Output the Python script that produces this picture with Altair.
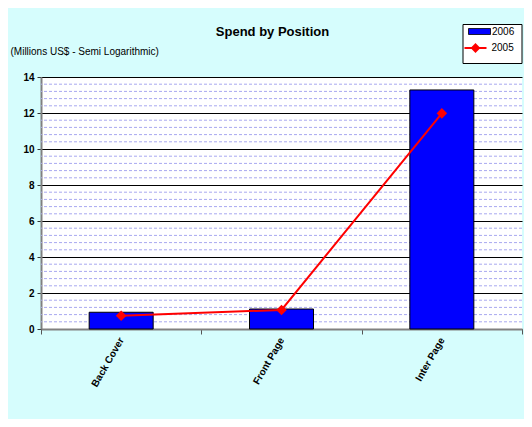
import altair as alt
import pandas as pd

categories = ["Back Cover", "Front Page", "Inter Page"]
spend_2006 = [0.93, 1.11, 13.28]
spend_2005 = [0.74, 1.06, 11.98]
series = ["2006", "2005"]
y_ticks = [0, 2, 4, 6, 8, 10, 12, 14]
minor_grid = [round(i * 0.4, 1) for i in range(1, 35) if i % 5 != 0]

bars_df = pd.DataFrame({"Position": categories, "Spend": spend_2006, "Year": series[0]})
line_df = pd.DataFrame({"Position": categories, "Spend": spend_2005, "Year": series[1]})
grid_df = pd.DataFrame({"Spend": minor_grid})

FONT = "Liberation Sans"

x_axis = alt.Axis(
    title=None,
    labelAngle=-60,
    labelFontWeight="bold",
    labelFontSize=10,
    labelFont=FONT,
    labelColor="black",
    labelPadding=4,
    tickBand="extent",
    tickSize=5,
    tickColor="#555555",
    tickWidth=1,
    domainColor="#808080",
    domainWidth=2,
    grid=False,
)
x_scale = alt.Scale(paddingInner=0, paddingOuter=0)

y_scale = alt.Scale(domain=[0, 14], nice=False, zero=True)
y_axis = alt.Axis(
    values=y_ticks,
    title="(Millions US$ - Semi Logarithmic)",
    titleAngle=0,
    titleAlign="left",
    titleBaseline="middle",
    titleX=-31,
    titleY=-26,
    titleFontSize=10,
    titleFontWeight="normal",
    titleFont=FONT,
    titleColor="black",
    labelFontWeight="bold",
    labelFontSize=10,
    labelFont=FONT,
    labelColor="black",
    labelPadding=3,
    tickSize=4,
    tickColor="#333333",
    domainColor="#808080",
    domainWidth=2,
    grid=True,
    gridColor="black",
    gridWidth=1,
)

fill_legend = alt.Legend(
    title=None,
    orient="none",
    legendX=433,
    legendY=-51,
    padding=0,
    labelFont=FONT,
    labelFontSize=10,
    labelColor="black",
    labelOffset=7,
    symbolSize=100,
    symbolType="M-2.2,-0.6H2.2V0.6H-2.2Z",
    symbolStrokeColor="black",
    symbolStrokeWidth=0.8,
    symbolOpacity=1,
    zindex=3,
)

stroke_legend = alt.Legend(
    title="2006",
    titleOpacity=0,
    titleOrient="top",
    titleFontSize=10,
    titlePadding=1,
    orient="none",
    legendX=421.5,
    legendY=-53,
    padding=7,
    fillColor="white",
    strokeColor="black",
    labelFont=FONT,
    labelFontSize=10,
    labelColor="black",
    labelOffset=10,
    symbolSize=100,
    symbolType="M-2.2,0H2.2M0,-0.7L0.7,0L0,0.7L-0.7,0Z",
    symbolFillColor="#ff0000",
    symbolStrokeWidth=2,
    symbolOpacity=1,
    zindex=1,
)

minor = alt.Chart(grid_df).mark_rule(
    color="#a8a8f0", strokeWidth=1, strokeDash=[3, 2]
).encode(y=alt.Y("Spend:Q", scale=y_scale, axis=y_axis))

bars = alt.Chart(bars_df).mark_bar(size=64, stroke="black", strokeWidth=1).encode(
    x=alt.X("Position:N", sort=categories, scale=x_scale, axis=x_axis),
    y=alt.Y("Spend:Q", scale=y_scale, axis=y_axis),
    fill=alt.Fill("Year:N", scale=alt.Scale(domain=[series[0]], range=["#0000ff"]), legend=fill_legend),
)

line = alt.Chart(line_df).mark_line(
    strokeWidth=2,
    point=alt.OverlayMarkDef(shape="diamond", filled=True, size=60, fill="#ff0000"),
).encode(
    x=alt.X("Position:N", sort=categories, scale=x_scale, axis=x_axis),
    y=alt.Y("Spend:Q", scale=y_scale, axis=y_axis),
    stroke=alt.Stroke("Year:N", scale=alt.Scale(domain=[series[1]], range=["#ff0000"]), legend=stroke_legend),
)

chart = (
    alt.layer(minor, bars, line)
    .resolve_scale(fill="independent", stroke="independent")
    .properties(
        width=481,
        height=252,
        autosize="none",
        padding={"left": 33, "top": 69, "right": 2, "bottom": 90},
        background="#d6fdfd",
        title=alt.TitleParams(
            text="Spend by Position",
            fontSize=13,
            fontWeight="bold",
            font=FONT,
            color="black",
            anchor="middle",
            dx=-9,
            dy=23,
            offset=8,
        ),
    )
    .configure_view(fill="white", stroke=None)
)

chart.save("out.html", embed_options={"renderer": "svg", "actions": False})
